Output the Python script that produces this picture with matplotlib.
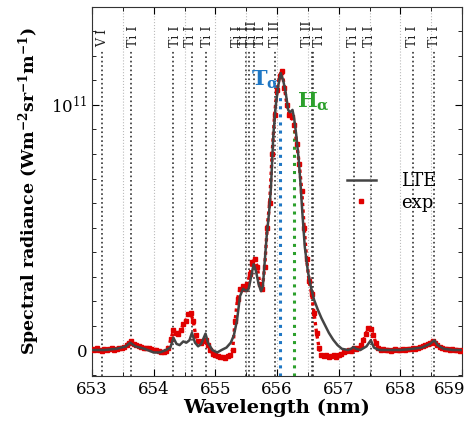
import matplotlib
matplotlib.use("Agg")
import matplotlib.pyplot as plt
import matplotlib.transforms as mtransforms
from matplotlib.lines import Line2D
import numpy as np
from matplotlib.ticker import MultipleLocator, FixedLocator, FixedFormatter

plt.rcParams['font.family'] = ['DejaVu Serif']
plt.rcParams['mathtext.fontset'] = 'dejavuserif'

# LTE model (units of 1e11 W m^-2 sr^-1 m^-1)
lte_wl = [653.00, 653.20, 653.40, 653.55, 653.62, 653.70, 653.85, 654.00, 654.10, 654.20,
          654.27, 654.32, 654.37, 654.42, 654.48, 654.53, 654.58, 654.62, 654.67, 654.72,
          654.77, 654.84, 654.88, 654.95, 655.03, 655.10, 655.18, 655.25, 655.30, 655.35,
          655.40, 655.45, 655.50, 655.54, 655.58, 655.62, 655.66, 655.70, 655.74, 655.77,
          655.80, 655.83, 655.87, 655.90, 655.94, 655.98, 656.02, 656.06, 656.10, 656.14,
          656.18, 656.21, 656.25, 656.28, 656.31, 656.35, 656.38, 656.41, 656.45, 656.50,
          656.55, 656.60, 656.66, 656.72, 656.78, 656.84, 656.91, 656.98, 657.05, 657.15,
          657.20, 657.24, 657.28, 657.35, 657.45, 657.52, 657.57, 657.65, 657.80, 658.00,
          658.20, 658.35, 658.48, 658.55, 658.60, 658.70, 658.85, 659.05]
lte_val = [0.000, 0.000, 0.005, 0.015, 0.030, 0.015, 0.005, -0.010, -0.010, 0.000,
           0.010, 0.050, 0.025, 0.020, 0.035, 0.030, 0.040, 0.070, 0.030, 0.015,
           0.025, 0.067, 0.030, 0.000, -0.010, 0.000, 0.010, 0.030, 0.060, 0.120,
           0.220, 0.250, 0.240, 0.250, 0.300, 0.350, 0.320, 0.270, 0.240, 0.260,
           0.360, 0.460, 0.560, 0.660, 0.880, 1.000, 1.080, 1.130, 1.100, 1.050,
           0.980, 0.970, 0.980, 0.940, 0.880, 0.780, 0.680, 0.560, 0.420, 0.320,
           0.255, 0.205, 0.165, 0.130, 0.100, 0.070, 0.042, 0.020, 0.005, 0.000,
           0.005, 0.012, 0.005, 0.000, 0.015, 0.040, 0.010, 0.000, 0.000, 0.000,
           0.005, 0.010, 0.025, 0.040, 0.020, 0.005, 0.000, 0.000]

# experimental spectrum, sampled every 0.04 nm from 653.00 nm
exp_val = [0.005, 0.000, 0.008, 0.002, -0.004, 0.006, 0.000, 0.004, 0.008, 0.002, 0.006, 0.010, 0.008,
           0.012, 0.020, 0.030, 0.035, 0.025, 0.020,
           0.015, 0.012, 0.010, 0.008, 0.010, 0.005, 0.000, 0.002, -0.005, -0.008, -0.010, -0.005, 0.010,
           0.045, 0.080, 0.070, 0.065, 0.080, 0.105, 0.120, 0.145, 0.150, 0.120, 0.060,
           0.035, 0.030, 0.035, 0.040, 0.020, 0.000, -0.015, -0.020,
           -0.025, -0.030, -0.028, -0.032, -0.025, -0.020, 0.000,
           0.120, 0.210, 0.250, 0.260, 0.250, 0.270, 0.310,
           0.360, 0.370, 0.340, 0.270, 0.250, 0.340,
           0.500, 0.600, 0.800, 0.960, 1.060, 1.120, 1.140,
           1.070, 1.000, 0.960, 0.950, 0.920, 0.840, 0.760, 0.650, 0.500,
           0.370, 0.280, 0.230, 0.150, 0.070, 0.010, -0.020,
           -0.025, -0.020, -0.030, -0.025, -0.020, -0.028, -0.020, -0.015, -0.010, -0.005,
           0.000, -0.005, 0.010, 0.005, 0.010, 0.020, 0.040,
           0.065, 0.090, 0.085, 0.060, 0.030, 0.010,
           0.000, 0.005, 0.000, 0.002, -0.002, 0.000, 0.004, 0.000, 0.002, 0.005, 0.000, 0.004,
           0.006, 0.008, 0.005, 0.010, 0.012, 0.015, 0.020, 0.025, 0.030, 0.035, 0.030, 0.020,
           0.012, 0.008, 0.005, 0.004, 0.000, 0.003, 0.000, 0.002, -0.002, 0.000]
exp_wl = np.linspace(653.0, 653.0 + 0.04 * (len(exp_val) - 1), len(exp_val))

# identified lines
line_wl = [653.17, 653.64, 654.31, 654.62, 654.85, 655.49, 655.55, 655.62,
           655.97, 656.56, 656.59, 657.24, 657.52, 658.20, 658.55]
label_wl = [653.18, 653.67, 654.35, 654.59, 654.87, 655.36, 655.47, 655.60, 655.73,
            655.98, 656.50, 656.69, 657.24, 657.50, 658.20, 658.55]
label_txt = ['V I', 'Ti I', 'Ti I', 'Ti I', 'Ti I', 'Ti I', 'Ti I', 'Ti II', 'Ti I',
             'Ti II', 'Ti II', 'Ti I', 'Ti I', 'Ti I', 'Ti I', 'Ti I']

t_alpha = 656.04
h_alpha = 656.28
xticks = [653, 654, 655, 656, 657, 658, 659]
scale = 1e11

fig = plt.figure(figsize=(4.73, 4.26), dpi=100)
ax = fig.add_axes([0.1945, 0.1174, 0.7825, 0.8662])

ymin, ymax = -0.106 * scale, 1.40 * scale
line_top = 1.225 * scale

for w in line_wl:
    ax.plot([w, w], [ymin, line_top], color='#333333', ls=':', lw=1.2, zorder=1)
for w, t in zip(label_wl, label_txt):
    ax.text(w, 1.237 * scale, t, rotation=90, ha='center', va='bottom',
            fontsize=9, color='#222222')

ax.plot([t_alpha, t_alpha], [ymin, 1.05 * scale], color='#1f77c4', ls=':', lw=2.2, zorder=2)
ax.plot([h_alpha, h_alpha], [ymin, 0.95 * scale], color='#2ca02c', ls=':', lw=2.2, zorder=2)

ax.plot(exp_wl, np.array(exp_val) * scale, ls=(0, (1, 1)), lw=2.4, marker='s', ms=2.6,
        color='#e00000', zorder=3)
ax.plot(lte_wl, np.array(lte_val) * scale, color='#444444', lw=1.8, zorder=4)

ax.text(655.57, 1.08 * scale, r'$\mathbf{T}_{\mathbf{\alpha}}$', color='#1f77c4', fontsize=15)
ax.text(656.33, 0.99 * scale, r'$\mathbf{H}_{\mathbf{\alpha}}$', color='#2ca02c', fontsize=15)

ax.set_xlim(653.0, 659.0)
ax.set_ylim(ymin, ymax)
ax.set_xticks(xticks)
ax.set_xticklabels([str(v) for v in xticks])
ax.xaxis.set_minor_locator(MultipleLocator(0.5))
ax.grid(True, which='both', axis='x', color='#bbbbbb', ls=':', lw=0.8)
ax.yaxis.set_major_locator(FixedLocator([0, scale]))
ax.yaxis.set_major_formatter(FixedFormatter(['0', r'$10^{11}$']))
ax.yaxis.set_minor_locator(MultipleLocator(0.1 * scale))
ax.tick_params(which='both', direction='in', top=True, right=True, labelsize=12)
ax.tick_params(which='major', length=5)
ax.tick_params(which='minor', length=3)
for s in ax.spines.values():
    s.set_color('#333333')

# keep the last x tick label inside the figure
last = ax.get_xticklabels()[-1]
last.set_transform(last.get_transform() +
                   mtransforms.ScaledTranslation(-12 / 100, 0, fig.dpi_scale_trans))

ax.set_xlabel('Wavelength (nm)', fontsize=14, fontweight='bold', labelpad=1)
ax.set_ylabel(r'Spectral radiance (Wm$^{\mathbf{-2}}$sr$^{\mathbf{-1}}$m$^{\mathbf{-1}}$)',
              fontsize=12.5, fontweight='bold', labelpad=6)

handles = [Line2D([], [], color='#444444', lw=1.8),
           Line2D([], [], ls='none', marker='s', ms=2.6, color='#e00000')]
ax.legend(handles, ['LTE', 'exp'], loc='upper left', bbox_to_anchor=(0.645, 0.597),
          frameon=False, fontsize=13, handlelength=1.6, handletextpad=1.4,
          labelspacing=0.2)

fig.savefig('out.png', dpi=100)
